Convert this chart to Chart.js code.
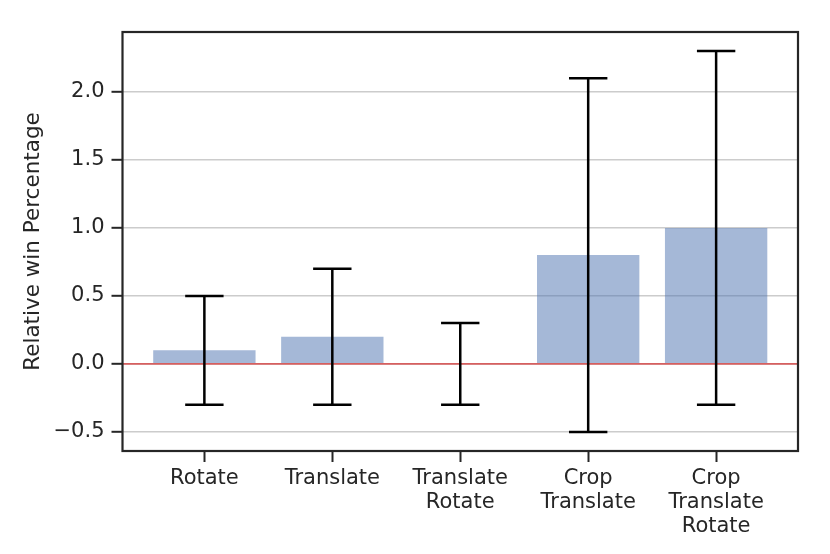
<!DOCTYPE html>
<html>
<head>
<meta charset="utf-8">
<script src="https://cdn.jsdelivr.net/npm/chart.js@4.4.1/dist/chart.umd.min.js"></script>
<style>
  html, body { margin: 0; padding: 0; background: #ffffff; }
  #wrap { width: 830px; height: 554px; position: relative; }
</style>
</head>
<body>
<div id="wrap"><canvas id="c"></canvas></div>
<script>
const categories = [["Rotate"], ["Translate"], ["Translate", "Rotate"], ["Crop", "Translate"], ["Crop", "Translate", "Rotate"]];
const values = [0.1, 0.2, 0.0, 0.8, 1.0];
const errLow = [-0.3, -0.3, -0.3, -0.5, -0.3];
const errHigh = [0.5, 0.7, 0.3, 2.1, 2.3];
const yTicks = [-0.5, 0.0, 0.5, 1.0, 1.5, 2.0];
const yLabel = "Relative win Percentage";

const TEXT = '#262626';
const FONT = 'DejaVu Sans';

const overlay = {
  id: 'overlay',
  afterDatasetsDraw(chart) {
    const { ctx, chartArea, scales } = chart;
    const xs = scales.x, ys = scales.y;
    ctx.save();
    // zero reference line
    const y0 = ys.getPixelForValue(0);
    ctx.strokeStyle = '#d65f5f';
    ctx.lineWidth = 1.8;
    ctx.beginPath();
    ctx.moveTo(chartArea.left, y0);
    ctx.lineTo(chartArea.right, y0);
    ctx.stroke();
    // error bars
    ctx.strokeStyle = '#000000';
    ctx.lineWidth = 2.5;
    ctx.lineCap = 'butt';
    for (let i = 0; i < values.length; i++) {
      const x = xs.getPixelForValue(i);
      const xl = xs.getPixelForValue(i - 0.15);
      const xr = xs.getPixelForValue(i + 0.15);
      const yl = ys.getPixelForValue(errLow[i]);
      const yh = ys.getPixelForValue(errHigh[i]);
      ctx.beginPath();
      ctx.moveTo(x, yl); ctx.lineTo(x, yh);
      ctx.moveTo(xl, yl); ctx.lineTo(xr, yl);
      ctx.moveTo(xl, yh); ctx.lineTo(xr, yh);
      ctx.stroke();
    }
    // frame
    ctx.strokeStyle = TEXT;
    ctx.lineWidth = 2.2;
    ctx.strokeRect(chartArea.left, chartArea.top, chartArea.right - chartArea.left, chartArea.bottom - chartArea.top);
    ctx.restore();
  }
};

new Chart(document.getElementById('c'), {
  type: 'bar',
  data: {
    datasets: [{
      data: values.map((v, i) => ({ x: i, y: v })),
      backgroundColor: 'rgba(76,114,176,0.5)',
      borderWidth: 0,
      barPercentage: 0.8,
      categoryPercentage: 1.0
    }]
  },
  options: {
    responsive: true,
    maintainAspectRatio: false,
    animation: false,
    layout: { padding: { top: 32, right: 32, left: 0, bottom: 0 } },
    plugins: { legend: { display: false }, tooltip: { enabled: false } },
    scales: {
      x: {
        type: 'linear',
        min: -0.64,
        max: 4.64,
        offset: false,
        afterBuildTicks(scale) { scale.ticks = categories.map((c, i) => ({ value: i })); },
        afterFit(scale) { scale.height = 103; },
        ticks: {
          autoSkip: false,
          maxRotation: 0,
          minRotation: 0,
          padding: 4,
          color: TEXT,
          font: { family: FONT, size: 21, lineHeight: 1.15 },
          callback: (v) => categories[v] || ''
        },
        grid: {
          offset: false,
          drawOnChartArea: false,
          drawTicks: true,
          tickLength: 11,
          tickWidth: 2,
          tickColor: TEXT,
          color: TEXT
        },
        border: { display: false }
      },
      y: {
        min: -0.64,
        max: 2.44,
        afterBuildTicks(scale) { scale.ticks = yTicks.map(v => ({ value: v })); },
        afterFit(scale) { scale.width = 122.5; },
        ticks: {
          padding: 7,
          color: TEXT,
          font: { family: FONT, size: 21 },
          callback: (v) => (v < 0 ? '\u2212' : '') + Math.abs(v).toFixed(1)
        },
        grid: {
          color: '#cccccc',
          lineWidth: 1.6,
          drawTicks: true,
          tickLength: 11,
          tickWidth: 2,
          tickColor: TEXT
        },
        border: { display: false },
        title: {
          display: true,
          text: yLabel,
          color: TEXT,
          font: { family: FONT, size: 21.5 },
          padding: { top: 21, bottom: 0 }
        }
      }
    }
  },
  plugins: [overlay]
});
</script>
</body>
</html>
